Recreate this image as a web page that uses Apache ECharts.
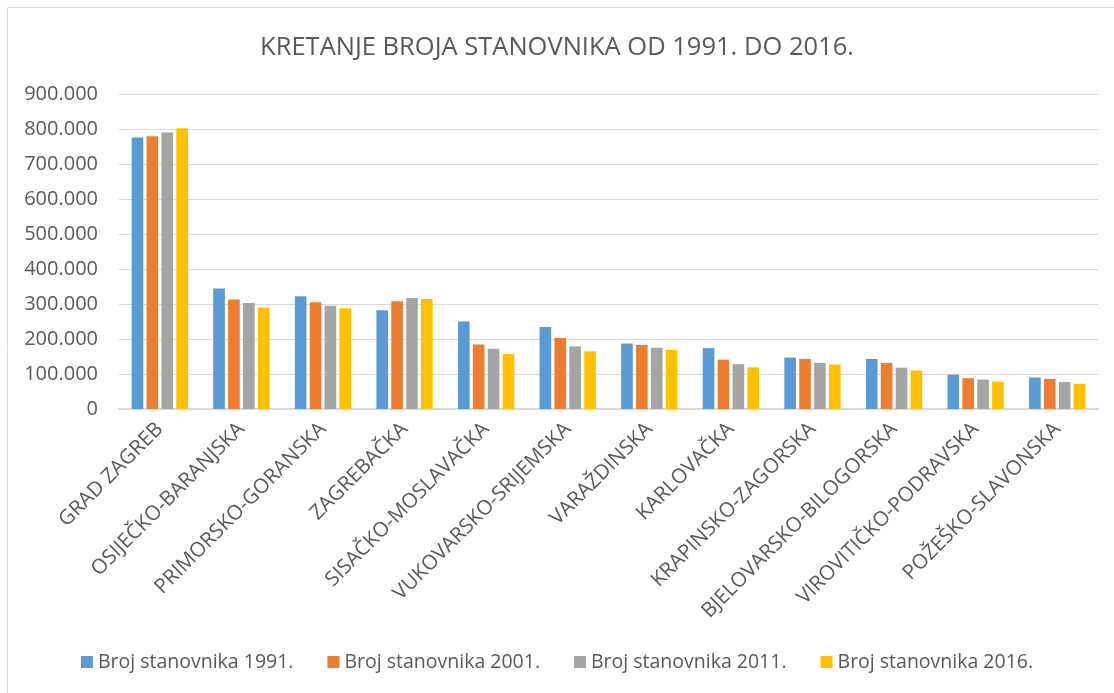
<!DOCTYPE html>
<html>
<head>
<meta charset="utf-8">
<script src="https://cdn.jsdelivr.net/npm/echarts@6/dist/echarts.min.js"></script>
<style>
  html, body { margin: 0; padding: 0; background: #fff; }
  #main { width: 1114px; height: 693px; }
</style>
</head>
<body>
<div id="main"></div>
<script>
// zupanije
var categories = ['GRAD ZAGREB', 'OSIJEČKO-BARANJSKA', 'PRIMORSKO-GORANSKA', 'ZAGREBAČKA',
    'SISAČKO-MOSLAVAČKA', 'VUKOVARSKO-SRIJEMSKA', 'VARAŽDINSKA', 'KARLOVAČKA',
    'KRAPINSKO-ZAGORSKA', 'BJELOVARSKO-BILOGORSKA', 'VIROVITIČKO-PODRAVSKA', 'POŽEŠKO-SLAVONSKA'];
var seriesNames = ['Broj stanovnika 1991.', 'Broj stanovnika 2001.', 'Broj stanovnika 2011.', 'Broj stanovnika 2016.'];
var stan1991 = [776000, 344000, 322000, 282000, 250000, 234000, 187000, 174000, 147000, 143000, 98000, 90000];
var stan2001 = [779000, 313000, 305000, 308000, 184000, 203000, 183000, 141000, 143000, 132000, 88000, 86000];
var stan2011 = [790000, 303000, 295000, 317000, 172000, 179000, 175000, 128000, 132000, 118000, 84000, 77000];
var stan2016 = [802000, 289000, 288000, 314000, 157000, 165000, 169000, 119000, 127000, 110000, 78000, 72000];
var colors = ['#5B9BD5', '#ED7D31', '#A5A5A5', '#FFC000'];

var font = 'Open Sans';
var txt = '#595959';

function fmt(v) {
    // tocka kao separator tisucica
    return String(v).replace(/\B(?=(\d{3})+(?!\d))/g, '.');
}

var myChart = echarts.init(document.getElementById('main'));
var allData = [stan1991, stan2001, stan2011, stan2016];
var series = [];
for (var i = 0; i < allData.length; i++) {
    series.push({
        name: seriesNames[i],
        type: 'bar',
        data: allData[i],
        barGap: '28%',
        barCategoryGap: '31%',
        itemStyle: { color: colors[i] }
    });
}

var option = {
    animation: false,
    color: colors,
    textStyle: { fontFamily: font },
    graphic: [{
        type: 'rect',
        shape: { x: 7.5, y: 7.5, width: 1200, height: 1200 },
        style: { fill: 'none', stroke: '#d9d9d9', lineWidth: 1 }
    }],
    title: {
        text: 'KRETANJE BROJA STANOVNIKA OD 1991. DO 2016.',
        left: 'center',
        top: 30,
        textStyle: { fontFamily: font, fontSize: 25.5, fontWeight: 'normal', color: txt }
    },
    legend: {
        data: seriesNames,
        top: 647,
        left: 'center',
        icon: 'rect',
        itemWidth: 12,
        itemHeight: 12,
        itemGap: 34,
        textStyle: { fontFamily: font, fontSize: 19.5, color: txt }
    },
    grid: {
        left: 119,
        right: 16,
        top: 94,
        bottom: 284,
        containLabel: false
    },
    xAxis: {
        type: 'category',
        data: categories,
        axisTick: { show: false },
        axisLine: { show: true, lineStyle: { color: '#d9d9d9', width: 2 } },
        axisLabel: {
            interval: 0,
            rotate: 45,
            margin: 17,
            fontFamily: font,
            fontSize: 20.5,
            color: txt
        }
    },
    yAxis: {
        type: 'value',
        min: 0,
        max: 900000,
        interval: 100000,
        axisLine: { show: false },
        axisTick: { show: false },
        splitLine: { lineStyle: { color: '#d9d9d9', width: 1 } },
        axisLabel: {
            margin: 21,
            fontFamily: font,
            fontSize: 20,
            color: txt,
            formatter: fmt
        }
    },
    series: series
};
myChart.setOption(option);
</script>
</body>
</html>
